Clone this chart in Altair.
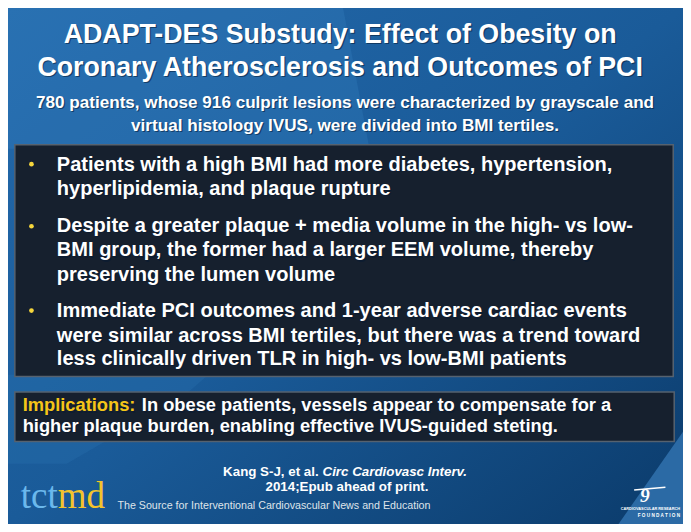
import altair as alt
import pandas as pd

# ---- reference frame (slide coordinates) ----
W, H = 691, 532
CW, CH = 675, 516          # chart size that fits inside the 8px page margin
S = 0.973                  # font scale reference px -> chart px

# ---- text content ----
title_lines = [
    "ADAPT-DES Substudy: Effect of Obesity on",
    "Coronary Atherosclerosis and Outcomes of PCI",
]
subtitle_lines = [
    "780 patients, whose 916 culprit lesions were characterized by grayscale and",
    "virtual histology IVUS, were divided into BMI tertiles.",
]
bullet_lines = [
    "Patients with a high BMI had more diabetes, hypertension,",
    "hyperlipidemia, and plaque rupture",
    "Despite a greater plaque + media volume in the high- vs low-",
    "BMI group, the former had a larger EEM volume, thereby",
    "preserving the lumen volume",
    "Immediate PCI outcomes and 1-year adverse cardiac events",
    "were similar across BMI tertiles, but there was a trend toward",
    "less clinically driven TLR in high- vs low-BMI patients",
]
impl_label = ["Implications:"]
impl_lines = [
    "In obese patients, vessels appear to compensate for a",
    "higher plaque burden, enabling effective IVUS-guided steting.",
]
cite_plain = ["Kang S-J, et al."]
cite_italic = ["Circ Cardiovasc Interv."]
cite_line2 = ["2014;Epub ahead of print."]
logo_tct = ["tct"]
logo_md = ["md"]
tagline = ["The Source for Interventional Cardiovascular News and Education"]
found_top = ["CARDIOVASCULAR RESEARCH"]
found_bottom = ["F O U N D A T I O N"]
found_mark = ["9"]

# ---- layout (positions) ----
title_x, title_y = [340, 340], [36, 70]
subtitle_x, subtitle_y = [345, 345], [103, 127]
bullet_x = [50] * 8
bullet_y = [168, 193, 231, 256, 281, 319, 344, 368]
dot_x, dot_y = [24, 24, 24], [161, 225, 312]
impl_label_x, impl_label_y = [15], [416]
impl_x, impl_y = [137, 15], [416, 437]

xs = alt.Scale(domain=[0, W], nice=False, zero=False)
ys = alt.Scale(domain=[0, H], nice=False, zero=False, reverse=True)


def X(f):
    return alt.X(f, type="quantitative", scale=xs, axis=None)


def Y(f):
    return alt.Y(f, type="quantitative", scale=ys, axis=None)


def text_layer(texts, xv, yv, size, color, align="left", weight="bold",
               style="normal", font="Liberation Sans", shadow=False):
    df = pd.DataFrame({"t": texts, "x": xv, "y": yv})
    layers = []
    if shadow:
        layers.append(
            alt.Chart(df).mark_text(
                align=align, baseline="alphabetic", font=font,
                fontSize=size * S, fontWeight=weight, fontStyle=style,
                color="#061a33", opacity=0.55, dx=1.2, dy=1.2,
            ).encode(x=X("x"), y=Y("y"), text="t:N")
        )
    layers.append(
        alt.Chart(df).mark_text(
            align=align, baseline="alphabetic", font=font,
            fontSize=size * S, fontWeight=weight, fontStyle=style, color=color,
        ).encode(x=X("x"), y=Y("y"), text="t:N")
    )
    return layers


# ---- background ----
bg = alt.Chart(pd.DataFrame({"x": [0], "x2": [W], "y": [0], "y2": [H]})).mark_rect(
    color=alt.Gradient(
        gradient="linear", x1=0, y1=0, x2=1, y2=1,
        stops=[
            alt.GradientStop(color="#2369ab", offset=0),
            alt.GradientStop(color="#1a5b99", offset=0.5),
            alt.GradientStop(color="#0b3b6b", offset=1),
        ],
    )
).encode(x=X("x"), x2="x2", y=Y("y"), y2="y2")

light_tl = alt.Chart(pd.DataFrame({"y": [0, 145], "x": [0, 0], "x2": [343, 370]})).mark_area(
    orient="horizontal", color="#3f8ccc", opacity=0.22
).encode(y=Y("y"), x=X("x"), x2="x2")

light_mid = alt.Chart(pd.DataFrame({"y": [378, 400, 470], "x": [0, 0, 0], "x2": [205, 180, 60]})).mark_area(
    orient="horizontal", color="#3f8ccc", opacity=0.15
).encode(y=Y("y"), x=X("x"), x2="x2")

light_br = alt.Chart(pd.DataFrame({"x": [625, 691], "y": [532, 437], "y2": [532, 532]})).mark_area(
    color="#2b6aa5"
).encode(x=X("x"), y=Y("y"), y2="y2")

# ---- boxes ----
boxes = alt.Chart(pd.DataFrame({
    "x": [7, 7], "x2": [681, 682], "y": [141, 396], "y2": [380, 447]
})).mark_rect(color="#16202e", stroke="#56626f", strokeWidth=1.5).encode(
    x=X("x"), x2="x2", y=Y("y"), y2="y2")

dots = alt.Chart(pd.DataFrame({"x": dot_x, "y": dot_y})).mark_circle(
    color="#f6d63c", opacity=1, size=22
).encode(x=X("x"), y=Y("y"))

layers = [bg, light_tl, light_mid, light_br, boxes, dots]
layers += text_layer(title_lines, title_x, title_y, 27.5, "#ffffff", align="center", shadow=True)
layers += text_layer(subtitle_lines, subtitle_x, subtitle_y, 17.6, "#ffffff", align="center", shadow=True)
layers += text_layer(bullet_lines, bullet_x, bullet_y, 20.6, "#ffffff", shadow=True)
layers += text_layer(impl_label, impl_label_x, impl_label_y, 18.8, "#f5c518", shadow=True)
layers += text_layer(impl_lines, impl_x, impl_y, 18.8, "#ffffff", shadow=True)
layers += text_layer(cite_plain, [318], [483], 13.7, "#ffffff", align="right")
layers += text_layer(cite_italic, [322], [483], 13.7, "#ffffff", style="italic")
layers += text_layer(cite_line2, [347], [498], 13.7, "#ffffff", align="center")
layers += text_layer(logo_tct, [13], [516], 38, "#6bb8ec", weight="normal", font="Liberation Serif")
layers += text_layer(logo_md, [51], [516], 38, "#f3c42c", weight="normal", font="Liberation Serif")
layers += text_layer(tagline, [112], [517], 11, "#dfe4ea", weight="normal")
layers += text_layer(found_mark, [652], [509], 20, "#ffffff", align="center", style="italic", font="Liberation Serif")
layers += text_layer(found_top, [688], [518], 4.0, "#ffffff", align="right")
layers += text_layer(found_bottom, [688], [525], 4.8, "#ffffff", align="right")

swoosh = alt.Chart(pd.DataFrame({"x": [641], "x2": [673], "y": [497], "y2": [494]})).mark_rule(
    color="#ffffff", strokeWidth=1.5
).encode(x=X("x"), x2="x2", y=Y("y"), y2="y2")
layers.append(swoosh)

chart = alt.layer(*layers).properties(
    width=CW, height=CH, padding=0, autosize=alt.AutoSizeParams(type="none"),
    background="#123f6f",
).configure_view(stroke=None)

chart.save("out.html", embed_options={"renderer": "svg", "actions": False})
